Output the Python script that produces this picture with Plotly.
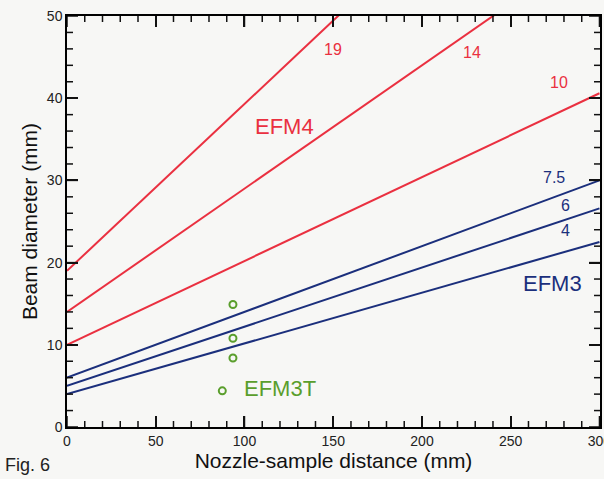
import plotly.graph_objects as go

# Data
x_range = [0, 300.3]
y_range = [0, 50]
efm4_labels = ["19", "14", "10"]
efm4_intercepts = [19.0, 14.0, 10.0]
efm4_slopes = [0.203, 0.150, 0.102]

efm3_labels = ["7.5", "6", "4"]
efm3_intercepts = [6.0, 5.0, 4.0]
efm3_slopes = [0.080, 0.072, 0.0617]

efm3t_x = [93.5, 93.5, 93.5, 87.5]
efm3t_y = [14.9, 10.8, 8.4, 4.4]

x_tick_values = list(range(0, 301, 10))
y_tick_values = list(range(0, 51, 2))

RED = "#ea3040"
BLUE = "#1b2f7c"
GREEN = "#5a9e2c"
FONT = "Liberation Sans"

W, H = 604, 479
ML, MR, MT, MB = 67, 4, 16, 52
px_per_x = (W - ML - MR) / (x_range[1] - x_range[0])
px_per_y = (H - MT - MB) / (y_range[1] - y_range[0])

fig = go.Figure()

line_x = [0, 300]
for b, m in zip(efm4_intercepts, efm4_slopes):
    ys = [b + m * x for x in line_x]
    fig.add_trace(go.Scatter(x=line_x, y=ys, mode="lines", line=dict(color=RED, width=2), showlegend=False))
for b, m in zip(efm3_intercepts, efm3_slopes):
    ys = [b + m * x for x in line_x]
    fig.add_trace(go.Scatter(x=line_x, y=ys, mode="lines", line=dict(color=BLUE, width=2), showlegend=False))

fig.add_trace(go.Scatter(x=efm3t_x, y=efm3t_y, mode="markers",
                         marker=dict(symbol="circle-open", color=GREEN, size=7, line=dict(width=2, color=GREEN)),
                         showlegend=False))

# inside tick marks on all four sides, built from the tick value lists
tx, ty = [], []
for v in x_tick_values:
    L = (11 if v % 50 == 0 else 6) / px_per_y
    tx += [v, v, None, v, v, None]
    ty += [y_range[0], y_range[0] + L, None, y_range[1], y_range[1] - L, None]
for v in y_tick_values:
    L = (11 if v % 10 == 0 else 6) / px_per_x
    tx += [x_range[0], x_range[0] + L, None, x_range[1], x_range[1] - L, None]
    ty += [v, v, None, v, v, None]
fig.add_trace(go.Scatter(x=tx, y=ty, mode="lines", line=dict(color="#111111", width=1.5),
                         connectgaps=False, showlegend=False, hoverinfo="skip"))

label_pos = [
    ("19", 150, 45.9, RED, 16),
    ("14", 228, 45.6, RED, 16),
    ("10", 277, 41.9, RED, 16),
    ("EFM4", 122.5, 36.5, RED, 22),
    ("7.5", 274.5, 30.4, BLUE, 16),
    ("6", 281, 26.9, BLUE, 16),
    ("4", 281, 23.9, BLUE, 16),
    ("EFM3", 273.5, 17.5, BLUE, 22),
    ("EFM3T", 120, 4.7, GREEN, 22),
]
for t, x, y, c, s in label_pos:
    fig.add_annotation(x=x, y=y, text=t, showarrow=False, font=dict(color=c, size=s, family=FONT),
                       xanchor="center", yanchor="middle")

fig.add_annotation(xref="paper", yref="paper", x=-0.121, y=-0.121, text="Fig. 6", showarrow=False,
                   font=dict(size=18, family=FONT, color="#222"), xanchor="left", yanchor="bottom")

fig.update_layout(
    font=dict(family=FONT, size=14, color="#222"),
    xaxis=dict(range=x_range, dtick=50, tick0=0, ticks="inside", ticklen=11, tickwidth=1.5, tickcolor="#111111",
               showline=True, linecolor="black", linewidth=1.5, mirror="allticks", showgrid=False, zeroline=False,
               automargin=False, ticklabeloverflow="allow",
               title=dict(text="Nozzle-sample distance (mm)", font=dict(size=21, color="#111"), standoff=2)),
    yaxis=dict(range=y_range, dtick=10, tick0=0, ticks="inside", ticklen=11, tickwidth=1.5, tickcolor="#111111",
               showline=True, linecolor="black", linewidth=1.5, mirror="allticks", showgrid=False, zeroline=False,
               automargin=False,
               title=dict(text="Beam diameter (mm)", font=dict(size=21, color="#111"), standoff=4)),
    width=W, height=H, margin=dict(l=ML, r=MR, t=MT, b=MB),
    paper_bgcolor="#f7f7f5", plot_bgcolor="#f7f7f5",
)
fig.write_html("out.html")
